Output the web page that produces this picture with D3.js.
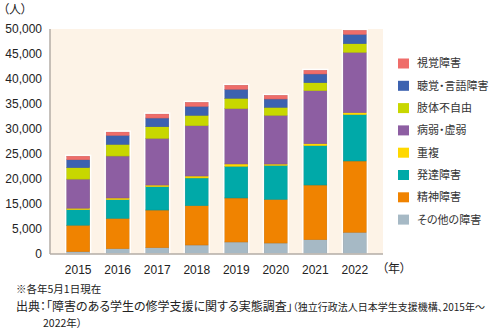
<!DOCTYPE html>
<html lang="ja">

<head>
    <meta charset="UTF-8">
    <title>障害のある学生数の推移</title>
    <script src="https://cdn.jsdelivr.net/npm/d3@7"></script>
    <style>
        body {
            margin: 0;
            background: #fff;
        }
        svg {
            display: block;
            font-family: "Liberation Sans", Arial, "Noto Sans CJK JP", sans-serif;
            color: #222;
        }
        .jp {
            font-family: "Noto Sans CJK JP", sans-serif;
            font-feature-settings: "palt";
        }
    </style>
</head>

<body>
    <div id="chart"></div>
    <script>
        // 年度
        const years = ["2015", "2016", "2017", "2018", "2019", "2020", "2021", "2022"];
        // 障害種別（下から積み上げる順）
        const categories = ["その他の障害", "精神障害", "発達障害", "重複", "病弱・虚弱", "肢体不自由", "聴覚・言語障害", "視覚障害"];
        const colors = ["#a6b9c5", "#f08300", "#00a9a8", "#ffd800", "#8d5ea2", "#c8d700", "#3c62b0", "#ef6d6a"];

        // 人数
        const other = [510, 1180, 1400, 2000, 2670, 2440, 3180, 4820];
        const mental = [5890, 6740, 8370, 8740, 9780, 9700, 12150, 15850];
        const developmental = [3440, 4150, 5180, 6150, 7040, 7550, 8740, 10300];
        const multiple = [340, 370, 370, 440, 520, 300, 440, 440];
        const sickness = [6460, 9330, 10370, 11180, 12300, 10820, 11780, 13400];
        const physical = [2550, 2590, 2590, 2300, 2300, 1780, 1780, 1930];
        const hearing = [1750, 2000, 1930, 2000, 2000, 1850, 1930, 2070];
        const visual = [790, 740, 890, 890, 890, 820, 820, 890];

        // 縦軸の目盛りラベル
        const yTickLabels = ["0", "5,000", "15,000", "20,000", "25,000", "30,000", "35,000", "40,000", "45,000", "50,000"];

        const series = [other, mental, developmental, multiple, sickness, physical, hearing, visual];
        const rows = years.map((y, i) => {
            const row = { year: y };
            categories.forEach((c, j) => row[c] = series[j][i]);
            return row;
        });

        const width = 500;
        const height = 331;
        const plot = { left: 50, right: 383, top: 29, bottom: 254 };

        const svg = d3.select("#chart")
            .append("svg")
            .attr("width", width)
            .attr("height", height);

        const x = d3.scaleBand()
            .domain(years)
            .range([plot.left, plot.right])
            .paddingInner(0.415)
            .paddingOuter(0.42);

        const y = d3.scaleLinear()
            .domain([0, 50000])
            .range([plot.bottom, plot.top]);

        // 目盛りラベルは等間隔に並べる
        const yTicks = d3.scalePoint()
            .domain(yTickLabels)
            .range([plot.bottom, plot.top]);

        const color = d3.scaleOrdinal().domain(categories).range(colors);

        svg.append("rect")
            .attr("x", plot.left)
            .attr("y", plot.top)
            .attr("width", plot.right - plot.left)
            .attr("height", plot.bottom - plot.top)
            .attr("fill", "#fdf3e7");

        const stack = d3.stack().keys(categories)(rows);

        svg.append("g")
            .selectAll("g")
            .data(stack)
            .join("g")
            .attr("fill", d => color(d.key))
            .attr("stroke", d => d3.color(color(d.key)).darker(0.4))
            .attr("stroke-width", 0.5)
            .selectAll("rect")
            .data(d => d)
            .join("rect")
            .attr("x", d => x(d.data.year))
            .attr("y", d => y(d[1]))
            .attr("width", x.bandwidth())
            .attr("height", d => y(d[0]) - y(d[1]));

        // 棒の白い縁取り
        svg.append("g")
            .selectAll("rect")
            .data(rows)
            .join("rect")
            .attr("x", d => x(d.year) - 1)
            .attr("y", d => y(d3.sum(categories, c => d[c])) - 1)
            .attr("width", x.bandwidth() + 2)
            .attr("height", d => plot.bottom - y(d3.sum(categories, c => d[c])) + 1)
            .attr("fill", "none")
            .attr("stroke", "#fff")
            .attr("stroke-width", 1.2);

        // 軸線
        svg.append("line")
            .attr("x1", plot.left).attr("x2", plot.left)
            .attr("y1", plot.top).attr("y2", plot.bottom)
            .attr("stroke", "#b3aca6").attr("stroke-width", 1.5);
        svg.append("line")
            .attr("x1", plot.left).attr("x2", plot.right)
            .attr("y1", plot.bottom).attr("y2", plot.bottom)
            .attr("stroke", "#b3aca6").attr("stroke-width", 1.5);

        const yAxis = svg.append("g")
            .attr("transform", `translate(${plot.left},0)`)
            .call(d3.axisLeft(yTicks).tickSize(0).tickPadding(8));
        yAxis.select(".domain").remove();
        yAxis.selectAll("text").attr("font-size", 12).attr("fill", "#222")
            .attr("font-family", "'Liberation Sans', Arial, sans-serif");

        const xAxis = svg.append("g")
            .attr("transform", `translate(0,${plot.bottom})`)
            .call(d3.axisBottom(x).tickSize(0).tickPadding(11));
        xAxis.select(".domain").remove();
        xAxis.selectAll("text").attr("font-size", 12).attr("fill", "#222")
            .attr("font-family", "'Liberation Sans', Arial, sans-serif");

        svg.append("text")
            .attr("class", "jp")
            .attr("x", 3)
            .attr("y", 14)
            .attr("font-size", 12)
            .attr("fill", "#222")
            .text("（人）");

        svg.append("text")
            .attr("class", "jp")
            .attr("x", 382)
            .attr("y", 273)
            .attr("font-size", 12)
            .attr("fill", "#222")
            .text("（年）");

        // 凡例（上から視覚障害）
        const legend = svg.append("g")
            .selectAll("g")
            .data(categories.slice().reverse())
            .join("g")
            .attr("transform", (d, i) => `translate(398,${63.5 + i * 22.3})`);
        legend.append("rect")
            .attr("x", 0)
            .attr("y", -5)
            .attr("width", 11)
            .attr("height", 10)
            .attr("fill", d => color(d));
        legend.append("text")
            .attr("class", "jp")
            .attr("x", 19)
            .attr("dy", "0.36em")
            .attr("font-size", 11)
            .attr("fill", "#333")
            .text(d => d);

        // 注記・出典
        svg.append("text")
            .attr("class", "jp")
            .attr("x", 16)
            .attr("y", 293)
            .attr("font-size", 10.5)
            .attr("fill", "#222")
            .text("※各年5月1日現在");

        const source = svg.append("text")
            .attr("class", "jp")
            .attr("x", 16)
            .attr("y", 311)
            .attr("font-size", 12)
            .attr("fill", "#222");
        source.append("tspan").text("出典：「障害のある学生の修学支援に関する実態調査」");
        source.append("tspan").attr("font-size", 10).text("（独立行政法人日本学生支援機構、2015年～");

        svg.append("text")
            .attr("class", "jp")
            .attr("x", 43)
            .attr("y", 327)
            .attr("font-size", 10.5)
            .attr("fill", "#222")
            .text("2022年）");
    </script>
</body>

</html>
